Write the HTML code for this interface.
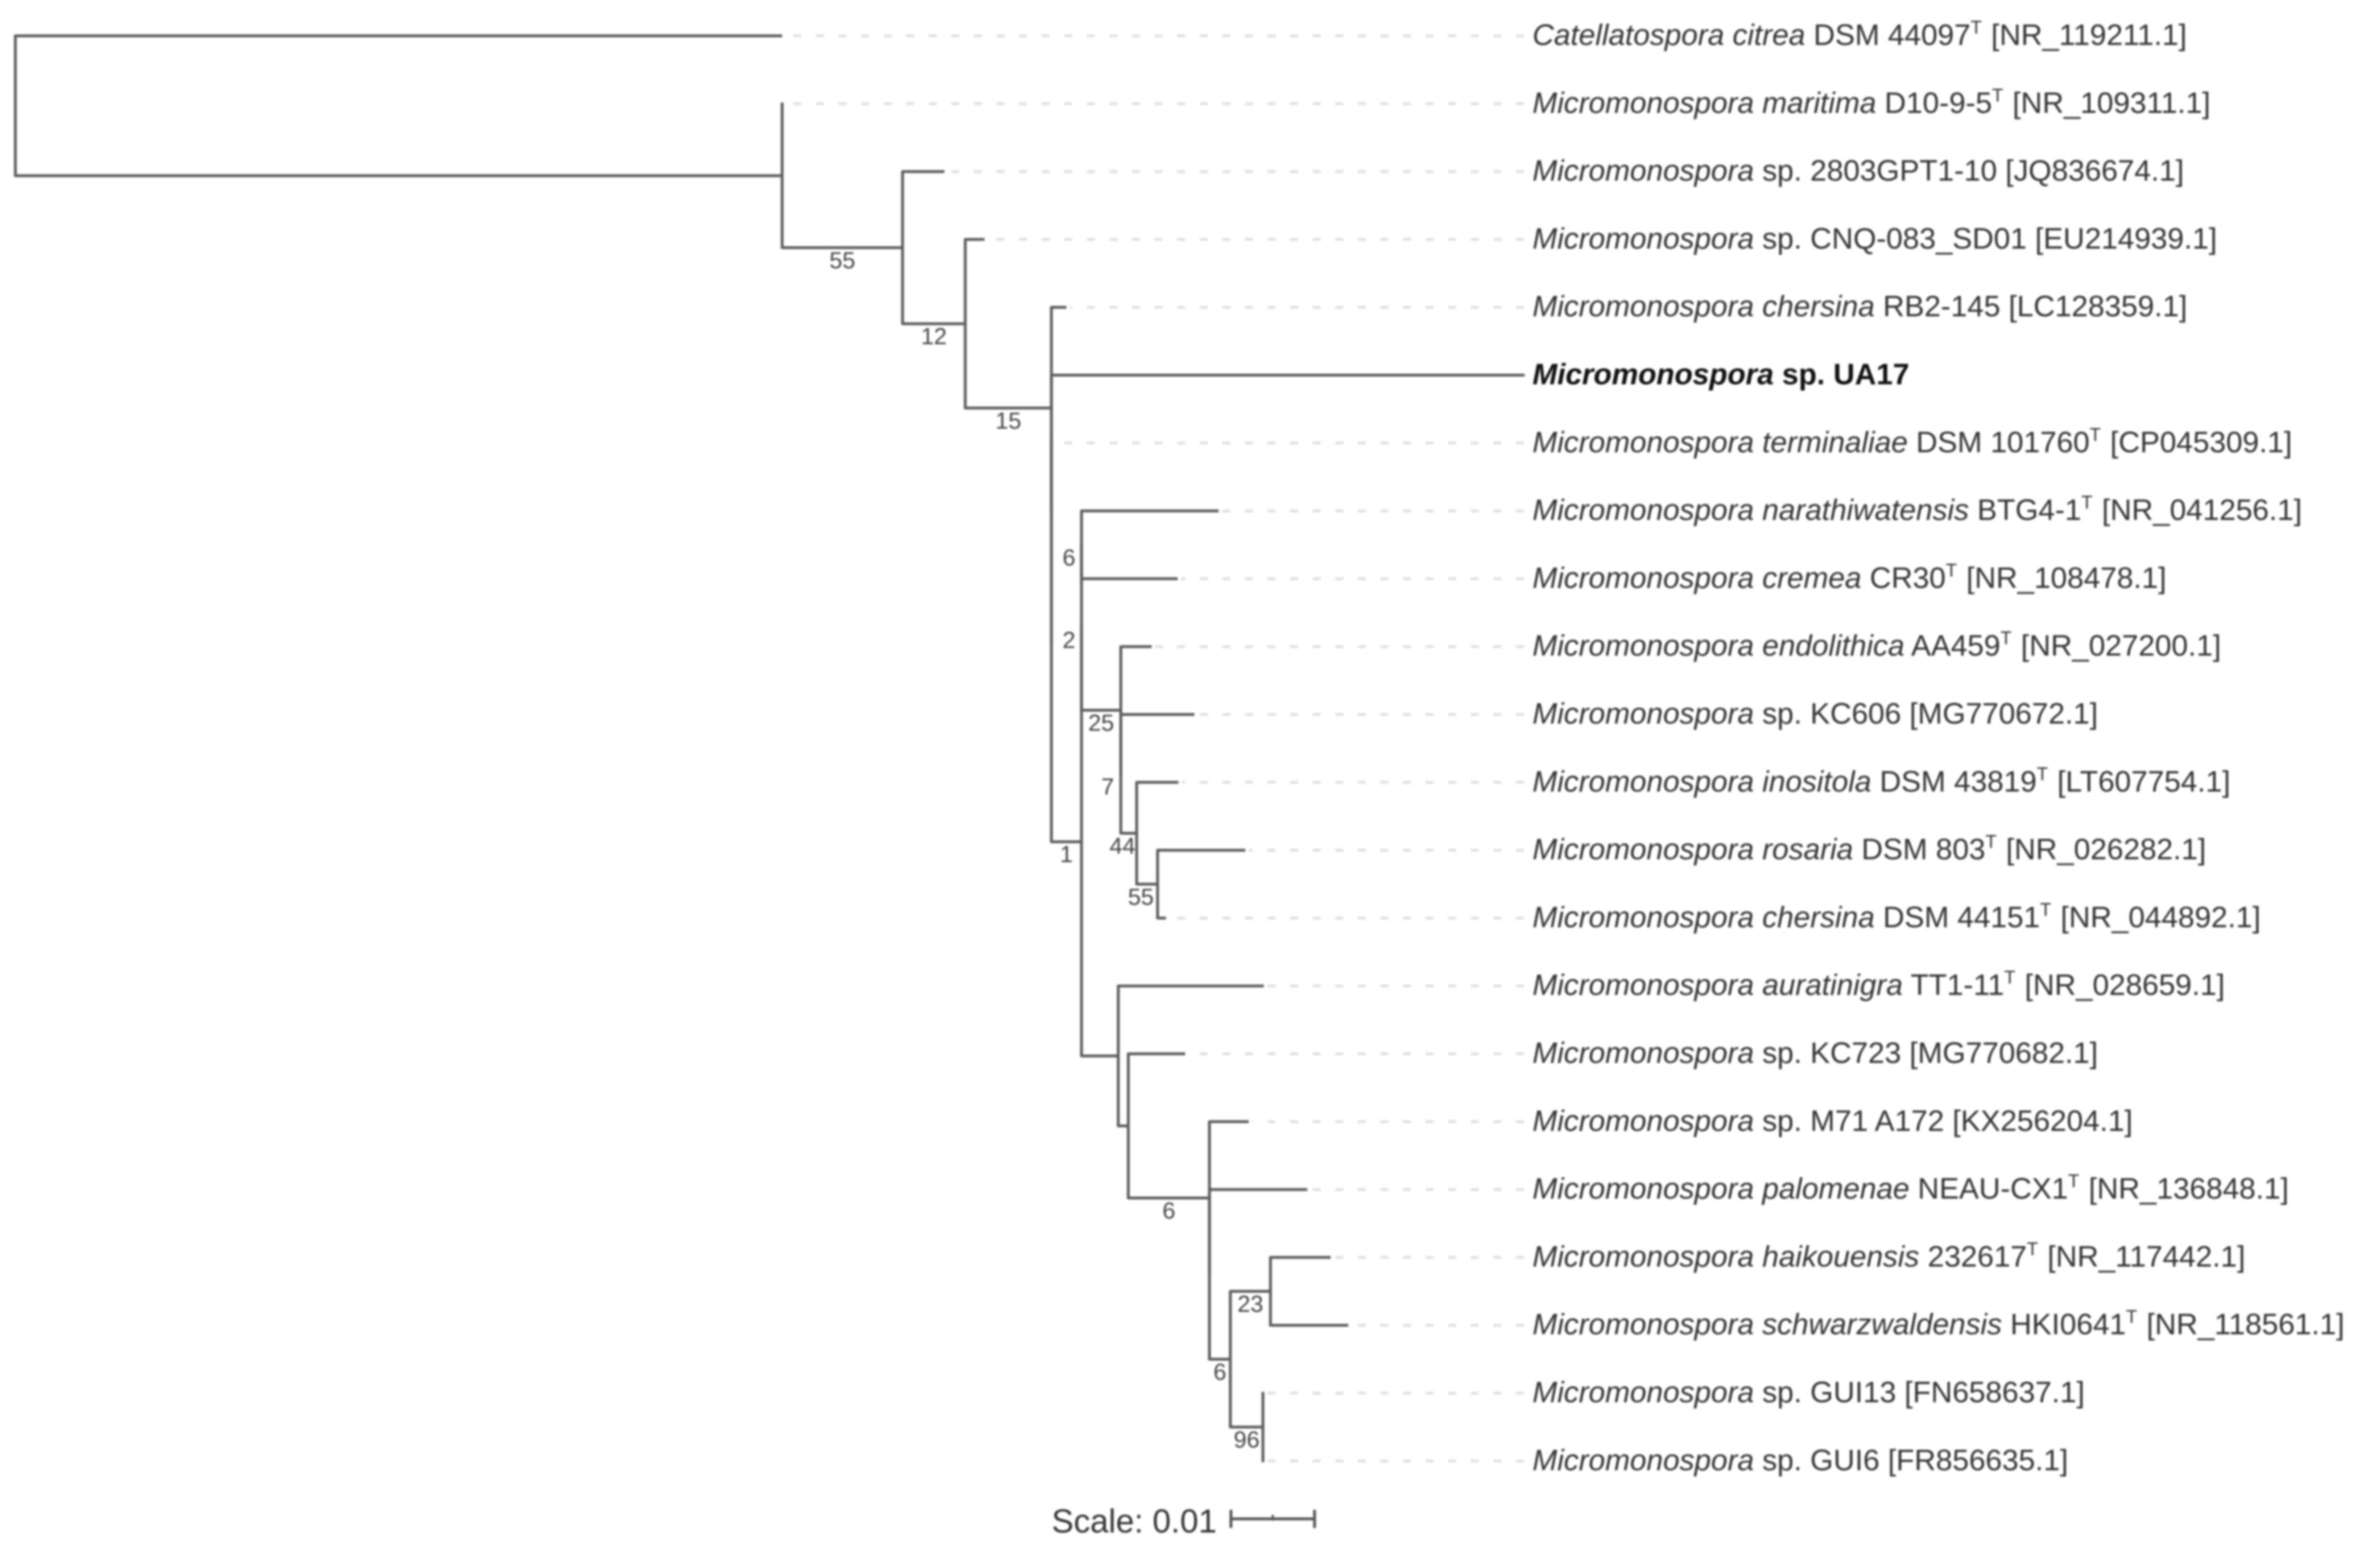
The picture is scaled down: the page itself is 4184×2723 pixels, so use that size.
<!DOCTYPE html>
<html lang="en">
<head>
<meta charset="utf-8">
<title>Micromonospora phylogenetic tree</title>
<style>
  html, body { margin: 0; padding: 0; background: #ffffff; }
  body { width: 4184px; height: 2723px; overflow: hidden; }
  #tree { display: block; filter: blur(1.8px); }
  text { font-family: "Liberation Sans", Arial, sans-serif; }
</style>
</head>
<body>
<svg id="tree" xmlns="http://www.w3.org/2000/svg" width="4184" height="2723" viewBox="0 0 4184 2723"></svg>
<script>
// ---- Tree data ----
const tipGenus = ["Catellatospora","Micromonospora","Micromonospora","Micromonospora","Micromonospora","Micromonospora","Micromonospora","Micromonospora","Micromonospora","Micromonospora","Micromonospora","Micromonospora","Micromonospora","Micromonospora","Micromonospora","Micromonospora","Micromonospora","Micromonospora","Micromonospora","Micromonospora","Micromonospora","Micromonospora"];
const tipEpithet = ["citrea","maritima","","","chersina","","terminaliae","narathiwatensis","cremea","endolithica","","inositola","rosaria","chersina","auratinigra","","","palomenae","haikouensis","schwarzwaldensis","",""];
const tipStrain = ["DSM 44097","D10-9-5","sp. 2803GPT1-10","sp. CNQ-083_SD01","RB2-145","sp. UA17","DSM 101760","BTG4-1","CR30","AA459","sp. KC606","DSM 43819","DSM 803","DSM 44151","TT1-11","sp. KC723","sp. M71 A172","NEAU-CX1","232617","HKI0641","sp. GUI13","sp. GUI6"];
const tipTypeStrain = [1,1,0,0,0,0,1,1,1,1,0,1,1,1,1,0,0,1,1,1,0,0];
const tipAccession = ["NR_119211.1","NR_109311.1","JQ836674.1","EU214939.1","LC128359.1","","CP045309.1","NR_041256.1","NR_108478.1","NR_027200.1","MG770672.1","LT607754.1","NR_026282.1","NR_044892.1","NR_028659.1","MG770682.1","KX256204.1","NR_136848.1","NR_117442.1","NR_118561.1","FN658637.1","FR856635.1"];
const tipDepth = [0.0917,0.0918,0.1111,0.1159,0.1257,0.1805,0.1239,0.1439,0.1390,0.1359,0.1410,0.1391,0.1471,0.1376,0.1493,0.1399,0.1475,0.1545,0.1573,0.1594,0.1493,0.1493];
const tipParent = ["R","A","B","C","D","D2","D3","F","F","G","G2","H","I","I","J","K","L","L2","N","N","O","O"];

const nodeIds = ["R","A","B","C","D","D2","D3","E","P","F","G","G2","H","I","J","K","L","L2","M","N","O"];
const nodeParent = [null,"R","A","B","C","D","D2","D3","E","P","P","G","G2","H","E","J","K","L","L2","M","M"];
const nodeDepth = [0,0.0917,0.1061,0.1136,0.1239,0.1239,0.1239,0.1275,0.1275,0.1275,0.1322,0.1322,0.1341,0.1366,0.1319,0.1331,0.1428,0.1428,0.1453,0.1501,0.1492];
const nodeSupport = ["","","55","12","15","","","1","2","6","25","7","44","55","","","6","","6","23","96"];

const scaleValue = 0.01;
const scaleLabel = "Scale: 0.01";

// ---- Layout ----
const SVG_NS = "http://www.w3.org/2000/svg";
const svg = document.getElementById("tree");
const X0 = 27, PX_PER_UNIT = 14700, Y0 = 63, ROW = 119.3, ALIGN_X = 2680, LABEL_X = 2694;
const supportShift = { P: -22, F: -22, G2: -23, H: -11, I: -11 };
const xScale = function (d) { return X0 + d * PX_PER_UNIT; };
const yScale = function (r) { return Y0 + r * ROW; };

const nodeIndex = {};
nodeIds.forEach(function (id, i) { nodeIndex[id] = i; });
const childRows = {};
nodeIds.forEach(function (id) { childRows[id] = []; });

function nodeRow(id) {
  const rows = [];
  tipParent.forEach(function (p, i) { if (p === id) rows.push(i); });
  nodeParent.forEach(function (p, i) { if (p === id) rows.push(nodeRow(nodeIds[i])); });
  childRows[id] = rows;
  return (Math.min.apply(null, rows) + Math.max.apply(null, rows)) / 2;
}
const rowOf = {};
nodeIds.forEach(function (id) { rowOf[id] = nodeRow(id); });

function makeLine(x1, y1, x2, y2, color, width) {
  const l = document.createElementNS(SVG_NS, "line");
  l.setAttribute("x1", x1);
  l.setAttribute("y1", y1);
  l.setAttribute("x2", x2);
  l.setAttribute("y2", y2);
  l.setAttribute("stroke", color);
  l.setAttribute("stroke-width", width);
  svg.appendChild(l);
  return l;
}

// Aligned dotted leader lines (drawn first, from the label side)
tipDepth.forEach(function (d, i) {
  if (!tipAccession[i]) return;
  const l = makeLine(ALIGN_X - 1, yScale(i), xScale(d) + 6, yScale(i), "#e0e0e0", 5);
  l.setAttribute("stroke-dasharray", "14 25.7");
  
  
});

// Vertical connectors
nodeIds.forEach(function (id, i) {
  const rows = childRows[id];
  const x = xScale(nodeDepth[i]);
  const l = makeLine(x, yScale(Math.min.apply(null, rows)) - 2, x, yScale(Math.max.apply(null, rows)) + 2, "#5c5c5c", 5);
  
  
});

// Internal branches
nodeIds.forEach(function (id, i) {
  if (nodeParent[i] === null) return;
  const px = xScale(nodeDepth[nodeIndex[nodeParent[i]]]);
  const y = yScale(rowOf[id]);
  const l = makeLine(px, y, xScale(nodeDepth[i]), y, "#5c5c5c", 5);
  
  
});

// Tip branches
tipDepth.forEach(function (d, i) {
  const px = xScale(nodeDepth[nodeIndex[tipParent[i]]]);
  const l = makeLine(px, yScale(i), xScale(d), yScale(i), "#5c5c5c", 5);
  
  
});

// Support values
nodeSupport.forEach(function (s, i) {
  if (!s) return;
  const id = nodeIds[i];
  const px = xScale(nodeDepth[nodeIndex[nodeParent[i]]]);
  const mid = (px + xScale(nodeDepth[i])) / 2 + (supportShift[id] || 0);
  const t = document.createElementNS(SVG_NS, "text");
  t.setAttribute("x", mid);
  t.setAttribute("y", yScale(rowOf[id]) + 36);
  t.setAttribute("text-anchor", "middle");
  t.setAttribute("font-size", "41");
  t.setAttribute("fill", "#444444");
  t.textContent = s;
  
  
  svg.appendChild(t);
});

// Tip labels
function addSpan(parent, text, opts) {
  const s = document.createElementNS(SVG_NS, "tspan");
  s.textContent = text;
  if (opts.italic) s.setAttribute("font-style", "italic");
  if (opts.size) s.setAttribute("font-size", opts.size);
  if (opts.dy) s.setAttribute("dy", opts.dy);
  if (opts.dx) s.setAttribute("dx", opts.dx);
  parent.appendChild(s);
}
tipGenus.forEach(function (g, i) {
  const t = document.createElementNS(SVG_NS, "text");
  t.setAttribute("x", LABEL_X);
  t.setAttribute("y", yScale(i) + 16);
  t.setAttribute("font-size", "52.3");
  t.setAttribute("fill", tipAccession[i] ? "#333333" : "#111111");
  if (!tipAccession[i]) t.setAttribute("font-weight", "bold");
  t.setAttribute("xml:space", "preserve");
  t.style.whiteSpace = "pre";
  addSpan(t, g + (tipEpithet[i] ? " " + tipEpithet[i] : ""), { italic: true });
  addSpan(t, " " + tipStrain[i], {});
  if (tipTypeStrain[i]) {
    addSpan(t, "T", { size: 32, dy: -20 });
    addSpan(t, " ", { dy: 20 });
    addSpan(t, "[" + tipAccession[i] + "]", { dx: 2 });
  } else if (tipAccession[i]) {
    addSpan(t, " ", {});
    addSpan(t, "[" + tipAccession[i] + "]", {});
  }
  
  
  svg.appendChild(t);
});

// Scale bar
(function () {
  const xa = 2164, yb = 2670, xb = xa + scaleValue * PX_PER_UNIT;
  const bar = makeLine(xa, yb, xb, yb, "#555555", 5);
  
  
  const capL = makeLine(xa, yb - 16, xa, yb + 16, "#555555", 5);
  
  
  const capR = makeLine(xb, yb - 16, xb, yb + 16, "#555555", 5);
  
  
  const midTick = makeLine((xa + xb) / 2, yb - 7, (xa + xb) / 2, yb + 3, "#555555", 4);
  
  
  const t = document.createElementNS(SVG_NS, "text");
  t.setAttribute("x", 2139);
  t.setAttribute("y", 2694);
  t.setAttribute("text-anchor", "end");
  t.setAttribute("font-size", "58");
  t.setAttribute("fill", "#333333");
  t.textContent = scaleLabel;
  
  
  svg.appendChild(t);
})();
</script>
</body>
</html>
